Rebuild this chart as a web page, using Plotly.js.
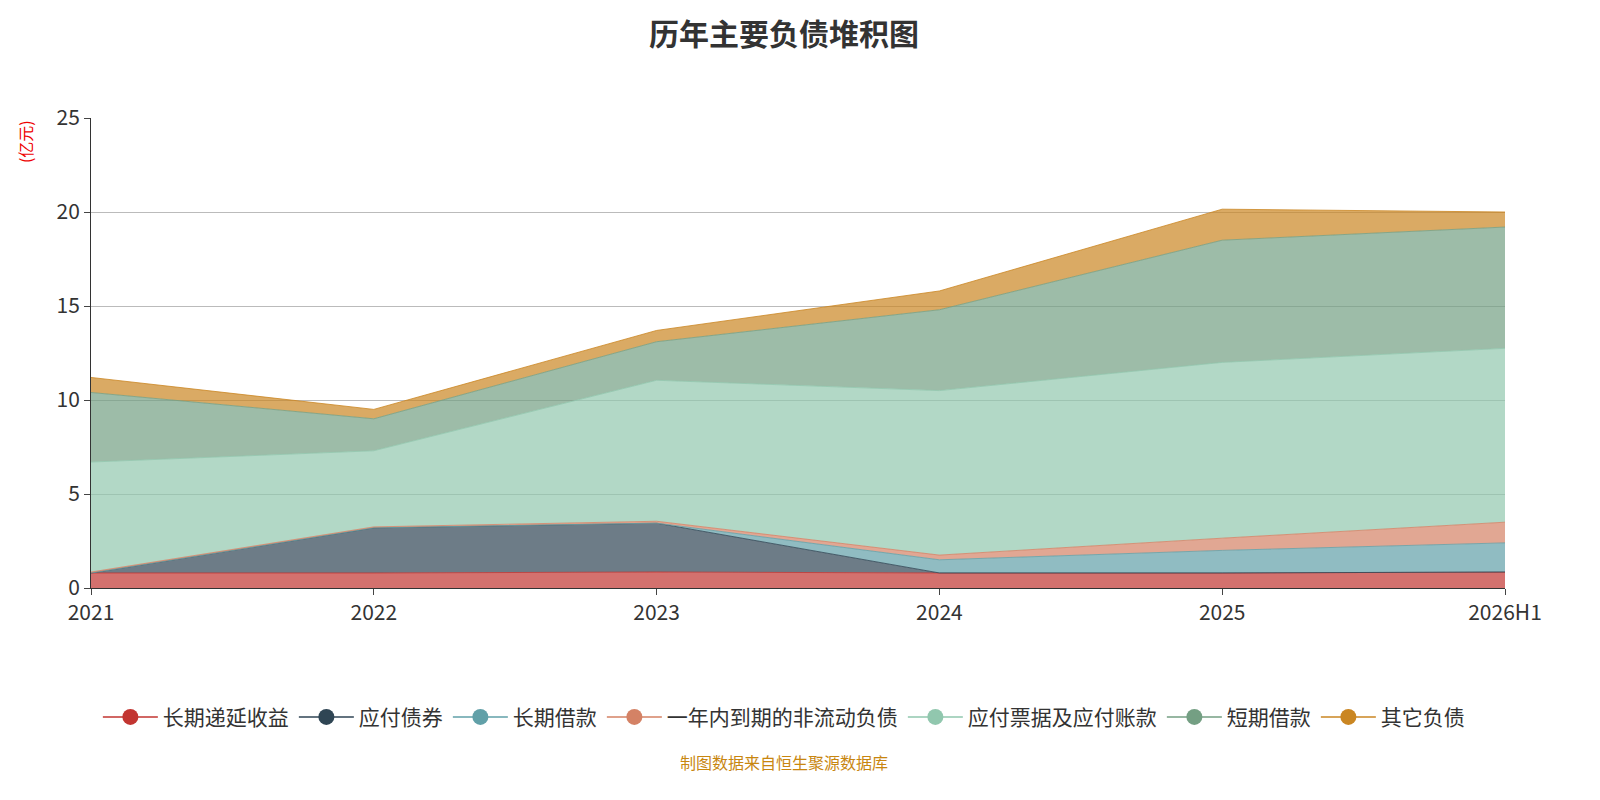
<!DOCTYPE html>
<html><head><meta charset="utf-8">
<script src="https://cdn.plot.ly/plotly-3.0.1.min.js"></script>
<style>body{margin:0}#c{width:1600px;height:800px}</style></head>
<body><div id="c"></div>
<script>
const years = ['2021','2022','2023','2024','2025','2026H1'];
const names = ['长期递延收益','应付债券','长期借款','一年内到期的非流动负债','应付票据及应付账款','短期借款','其它负债'];
const colors = ['#c23531','#2f4554','#61a0a8','#d48265','#91c7ae','#749f83','#ca8622'];
const deferred = [0.8,0.8,0.85,0.8,0.8,0.85];
const bonds = [0,2.4,2.6,0,0,0];
const longLoan = [0,0,0,0.7,1.2,1.55];
const currentNonCur = [0.05,0.05,0.1,0.25,0.65,1.1];
const payables = [5.85,4.05,7.5,8.75,9.35,9.25];
const shortLoan = [3.7,1.7,2.05,4.3,6.5,6.45];
const other = [0.8,0.5,0.6,1.0,1.65,0.8];
const series = [deferred,bonds,longLoan,currentNonCur,payables,shortLoan,other];
function rgba(h,a){const n=parseInt(h.slice(1),16);return `rgba(${n>>16},${(n>>8)&255},${n&255},${a})`;}
const data=[];
series.forEach((s,i)=>{
  data.push({x:years,y:s,type:'scatter',mode:'lines',stackgroup:'one',name:names[i],
    line:{width:1,color:rgba(colors[i],0.8)},fillcolor:rgba(colors[i],0.7),showlegend:false,hoverinfo:'y'});
});
series.forEach((s,i)=>{
  data.push({x:[null],y:[null],type:'scatter',mode:'lines+markers',name:names[i],
    line:{color:colors[i],width:1.5},marker:{color:colors[i],size:22}});
});
const layout={
  width:1600,height:800,margin:{l:91,r:95,t:118,b:212},
  paper_bgcolor:'#fff',plot_bgcolor:'#fff',
  font:{family:'Noto Sans CJK SC, Noto Sans',color:'#333'},
  title:{text:'<b>历年主要负债堆积图</b>',x:0.49,y:0.97,font:{size:30,color:'#333'}},
  xaxis:{type:'category',range:[0,5],automargin:false,showgrid:false,showline:true,linecolor:'#333',ticks:'outside',ticklen:6,tickfont:{size:21,color:'#333'}},
  yaxis:{range:[0,25],dtick:5,automargin:false,showgrid:true,gridcolor:'#bbb',showline:true,linecolor:'#333',ticks:'outside',ticklen:6,zeroline:false,tickfont:{size:21,color:'#333'}},
  legend:{orientation:'h',traceorder:'normal',x:0.49,xanchor:'center',y:-0.275,yanchor:'middle',font:{size:21,color:'#333'},itemwidth:55},
  annotations:[
    {text:'(亿元)',xref:'paper',yref:'paper',x:-0.047,y:1.0,textangle:-90,showarrow:false,font:{size:16,color:'#e00'},xanchor:'center',yanchor:'top'},
    {text:'制图数据来自恒生聚源数据库',xref:'paper',yref:'paper',x:0.49,y:-0.4,showarrow:false,font:{size:16,color:'#c8860f'},xanchor:'center'}
  ]
};
Plotly.newPlot('c',data,layout,{displayModeBar:false});
</script></body></html>
